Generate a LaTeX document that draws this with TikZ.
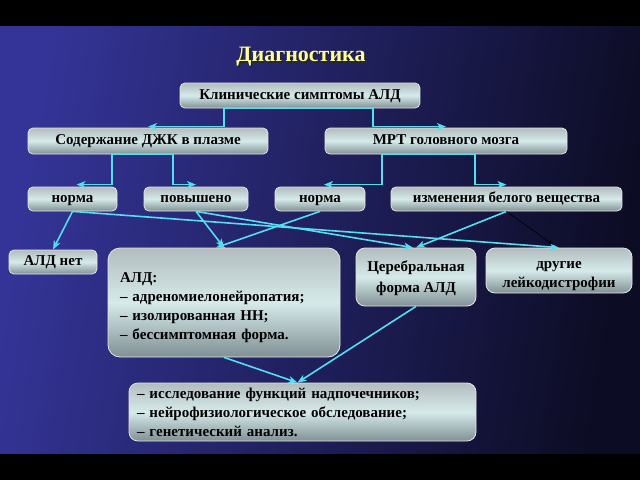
\documentclass[tikz,border=0pt]{standalone}
\usepackage{fontspec}
\setmainfont{Liberation Serif}
\usetikzlibrary{arrows.meta,calc}
\definecolor{cyl}{RGB}{84,222,240}
\definecolor{bxt}{RGB}{178,188,190}
\definecolor{bxm}{RGB}{214,234,234}
\definecolor{bxb}{RGB}{128,144,148}
\definecolor{bgl}{RGB}{52,52,152}
\definecolor{bgr}{RGB}{12,12,36}
\definecolor{ttl}{RGB}{255,255,150}
\pgfdeclareverticalshading{boxsh}{100bp}{color(0bp)=(bxb); color(25bp)=(bxb); color(50bp)=(bxm); color(75bp)=(bxt); color(100bp)=(bxt)}
\tikzset{
  bx/.style={rectangle, rounded corners=5pt, draw=white!80!gray, line width=0.8pt,
    shade, shading=boxsh, inner sep=0pt, text=black,
    font=\bfseries\fontsize{15}{19}\selectfont, align=center},
  one/.style={text height=10.5pt, text depth=3pt},
  cyarr/.style={draw=cyl, line width=1.6pt, -{Stealth[length=9pt,width=7pt,inset=2.5pt]}},
  cyboth/.style={draw=cyl, line width=1.6pt, {Stealth[length=9pt,width=7pt,inset=2.5pt]}-{Stealth[length=9pt,width=7pt,inset=2.5pt]}},
  blkarr/.style={draw=black, line width=0.7pt, -{Stealth[length=5pt,width=4pt]}}
}
\begin{document}
\begin{tikzpicture}[x=1pt,y=-1pt]
\useasboundingbox (0,0) rectangle (640,480);
\fill[black] (0,0) rectangle (640,480);
\shade[left color=bgl, right color=bgr, shading angle=80] (0,26) rectangle (640,453);
% title
\node[font=\bfseries\fontsize{22}{24}\selectfont, text=black!85] (tsh) at (302.5,58.5) {Диагностика};
\node[font=\bfseries\fontsize{22}{24}\selectfont, text=ttl] (title) at (301,57) {Диагностика};
% boxes
\node[bx, one, minimum width=240pt, minimum height=25pt] (kl) at (300,95.5) {Клинические симптомы АЛД};
\node[bx, one, minimum width=240pt, minimum height=26pt] (sod) at (148,141) {Содержание ДЖК в плазме};
\node[bx, one, minimum width=242pt, minimum height=26pt] (mrt) at (446,141) {МРТ головного мозга};
\node[bx, one, minimum width=89pt, minimum height=24pt] (n1) at (72.5,199) {норма};
\node[bx, one, minimum width=104pt, minimum height=24pt] (pov) at (196,199) {повышено};
\node[bx, one, minimum width=90pt, minimum height=24pt] (n2) at (320,199) {норма};
\node[bx, one, minimum width=231pt, minimum height=24pt] (izm) at (506.5,199) {изменения белого вещества};
\node[bx, one, minimum width=88pt, minimum height=24pt] (aldnet) at (53,262) {АЛД нет};
\node[bx, rounded corners=12pt, minimum width=232pt, minimum height=109pt, align=left, text width=208pt] (ald) at (224,302.5)
  {\rule{0pt}{21pt}АЛД:\\– адреномиелонейропатия;\\– изолированная НН;\\– бессимптомная форма.};
\node[bx, rounded corners=9pt, minimum width=120pt, minimum height=58pt] (cer) at (416,277) {\rule{0pt}{13pt}Церебральная\\[2pt]форма АЛД};
\node[bx, rounded corners=9pt, minimum width=146pt, minimum height=45pt] (dr) at (559,270.5) {\rule{0pt}{18pt}другие\\лейкодистрофии};
\node[bx, rounded corners=9pt, minimum width=347pt, minimum height=58pt, align=left, text width=331pt] (bot) at (302.5,412)
  {\rule{0pt}{12pt}– исследование функций надпочечников;\\– нейрофизиологическое обследование;\\– генетический анализ.};
% elbow connectors
\draw[cyboth] ([yshift=1pt]sod.north) -| ($(kl.south)+(-76,0)$) -- ($(kl.south)+(73,0)$) |- ([yshift=1pt]mrt.north);
\draw[cyboth] ([xshift=4pt,yshift=2pt]n1.north) -| ($(sod.south)+(-36,0)$) -- ($(sod.south)+(25,0)$) |- ([yshift=2pt]pov.north);
\draw[cyboth] ([xshift=4pt,yshift=2pt]n2.north) -| ($(mrt.south)+(-64,0)$) -- ($(mrt.south)+(29,0)$) |- ([yshift=2pt]izm.north);
% crossing connectors
\draw[cyarr] (n1.south) -- (aldnet.north);
\draw[cyarr] (n1.south) -- (dr.north);
\draw[cyarr] (pov.south) -- (ald.north);
\draw[cyarr] (pov.south) -- ([xshift=-3pt]cer.north);
\draw[cyarr] (n2.south) -- ([xshift=-8pt]ald.north);
\draw[cyarr] (izm.south) -- (cer.north);
\draw[blkarr] (izm.south) -- ([xshift=-6pt,yshift=3pt]dr.north);
\draw[cyarr] (ald.south) -- ([xshift=-5pt]bot.north);
\draw[cyarr] (cer.south) -- ([xshift=-5pt]bot.north);
\end{tikzpicture}
\end{document}
